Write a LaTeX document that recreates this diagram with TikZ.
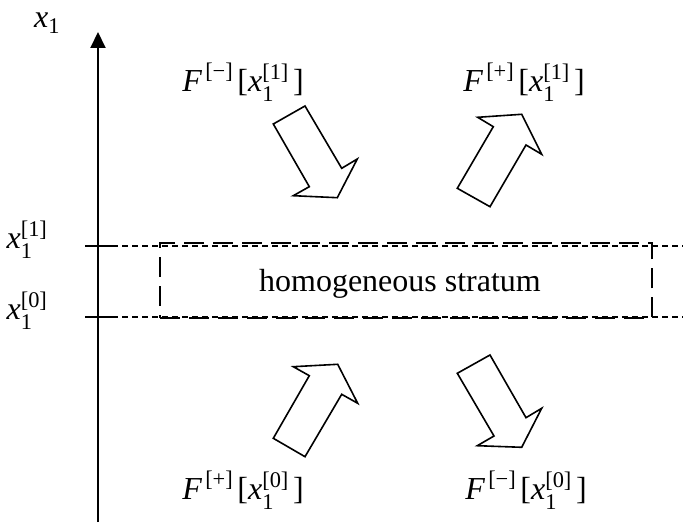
\documentclass[tikz,border=0pt]{standalone}
\usepackage{amsmath}
\usepackage{fontspec}
\setmainfont{Liberation Serif}
\usetikzlibrary{arrows.meta}
\newcommand\Xv[1]{\text{\itshape x}_{\text{1}}^{\text{[#1]}}}
\newcommand\Flab[2]{$\text{\itshape F}^{\,\text{[#1]}}\,\text{[}\Xv{#2}\,\text{]}$}
\begin{document}
\begin{tikzpicture}[x=1pt,y=-1pt,
  lab/.style={inner sep=0pt,font=\fontsize{32}{36}\selectfont},
  fine/.style={line width=1.2pt,dash pattern=on 6pt off 4pt},
  stratum/.style={line width=2pt,dash pattern=on 20pt off 9pt},
  blockarrow/.style={line width=1.6pt,line join=miter,fill=white}]
\useasboundingbox (0,0) rectangle (683,529);
% axis
\coordinate (ybot) at (98,522);
\coordinate (ytop) at (98,32);
\draw[line width=2pt,-{Triangle[length=16pt,width=15pt]}] (ybot) -- (ytop);
\node[lab] (xlab) at (47,23) {$\text{\itshape x}_{\text{1}}$};
% ticks
\coordinate (t1a) at (85,246); \coordinate (t1b) at (112,246);
\coordinate (t0a) at (85,317); \coordinate (t0b) at (112,317);
\coordinate (r1) at (683,246); \coordinate (r0) at (683,317);
\draw[line width=1.5pt] (t1a) -- (t1b);
\draw[line width=1.5pt] (t0a) -- (t0b);
\draw[fine] (t1b) -- (r1);
\draw[fine] (t0b) -- (r0);
\node[lab] (x1lab) at (27,240) {$\Xv{1}$};
\node[lab] (x0lab) at (27,311) {$\Xv{0}$};
% stratum
\node[stratum,draw,minimum width=492pt,minimum height=75pt] (box) at (406,281) {};
\node[lab] (strat) at (400,284) {homogeneous stratum};
% labels
\node[lab] (fm1) at (243,82) {\Flab{−}{1}};
\node[lab] (fp1) at (524,82) {\Flab{+}{1}};
\node[lab] (fp0) at (243,490) {\Flab{+}{0}};
\node[lab] (fm0) at (526,490) {\Flab{−}{0}};
% block arrows
\draw[blockarrow] (273.3,124) -- (305,106) -- (341.7,168.3) -- (357.3,159) -- (337.3,197.7) -- (293.3,195.7) -- (309.3,186.7) -- cycle;
\draw[blockarrow] (457.3,188.3) -- (490,206.7) -- (526,145) -- (541.7,154.3) -- (521.7,114.3) -- (477.7,117.3) -- (493.3,126.7) -- cycle;
\draw[blockarrow] (273.3,438.3) -- (305,456.7) -- (341.7,394.3) -- (357.7,403.3) -- (337.7,364.3) -- (293.3,366.7) -- (309.3,375.7) -- cycle;
\draw[blockarrow] (457.3,373.3) -- (490,355) -- (526,417.7) -- (541.7,408.3) -- (521.7,447.3) -- (477.3,445.7) -- (494,436) -- cycle;
\end{tikzpicture}
\end{document}
